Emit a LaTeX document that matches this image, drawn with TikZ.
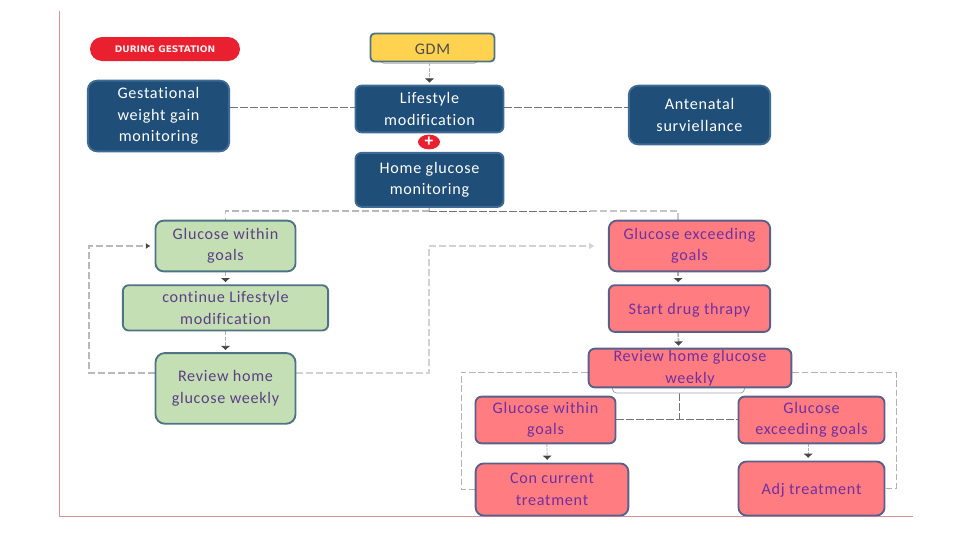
\documentclass[tikz,border=0pt]{standalone}
\usepackage{fontspec}
\setmainfont{Carlito}[LetterSpace=4.5,Ligatures=NoCommon]
\newfontfamily\bannerfont{DejaVu Sans}
\usetikzlibrary{arrows.meta,positioning,backgrounds,shapes.geometric}
\definecolor{navybox}{HTML}{1F4E79}
\definecolor{navyline}{HTML}{3F6A94}
\definecolor{greenbox}{HTML}{C5DFB4}
\definecolor{greenline}{HTML}{4E7385}
\definecolor{pinkbox}{HTML}{FF7C80}
\definecolor{pinkline}{HTML}{5A6088}
\definecolor{yellowbox}{HTML}{FFD24F}
\definecolor{redmark}{HTML}{E8202F}
\definecolor{axisline}{HTML}{DB8E9E}
\definecolor{purpletext}{HTML}{7030A0}
\definecolor{greentext}{HTML}{5B3F85}
\begin{document}
\begin{tikzpicture}[
            x=0.75pt, y=-0.75pt,
            font=\fontsize{12.1}{16.1}\selectfont,
            base/.style={draw, rounded corners=4.5pt, line width=1.4pt, align=center, inner sep=0pt, execute at begin node={\rule{0pt}{10.5pt}}},
            navy/.style={base, draw=navyline, fill=navybox, text=white},
            green/.style={base, draw=greenline, fill=greenbox, text=greentext},
            pink/.style={base, draw=pinkline, fill=pinkbox, text=purpletext},
            under/.style={draw=gray!70, rounded corners=3pt, fill=white, line width=0.6pt},
            arrow/.style={-{Latex[length=3.2pt,width=7.5pt,color=gray!55!black]}, draw=gray!60, line width=1.3pt, dash pattern=on 3pt off 1pt, shorten >=1.5pt},
            thinlink/.style={draw=black!55, line width=0.5pt, dash pattern=on 6pt off 1.5pt},
            greylink/.style={draw=gray!55, line width=1.1pt, dash pattern=on 5pt off 2.5pt},
            palelink/.style={draw=gray!35, line width=1.1pt, dash pattern=on 5pt off 2.5pt},
            framelink/.style={draw=gray!60, line width=0.7pt, dash pattern=on 5pt off 2pt}
        ]
            \useasboundingbox (0,0) rectangle (960,540);
            \draw[axisline, line width=0.6pt] (59,11) -- (59,516) -- (913,516);

            \node[rounded corners=9pt, fill=redmark, text=white!92!redmark, minimum width=112.5pt, minimum height=18pt, inner sep=0pt, font=\bannerfont\fontsize{6.8}{9}\selectfont\bfseries] (during) at (165,49) {DURING GESTATION};

            % top row
            \node[under, minimum width=73pt, minimum height=14pt] (gdmback) at (429,54) {};
            \node[base, draw=greenline, fill=yellowbox, text=black!70, rounded corners=3pt, minimum width=93pt, minimum height=21pt] (gdm) at (432.5,47.5) {GDM};
            \node[navy, minimum width=111pt, minimum height=35pt] (life) at (429.5,109) {Lifestyle\\modification};
            \node[navy, rounded corners=7pt, minimum width=106pt, minimum height=53pt] (weight) at (158.5,116) {Gestational\\weight gain\\monitoring};
            \node[navy, rounded corners=7pt, minimum width=106pt, minimum height=44pt] (ante) at (699.5,115) {Antenatal\\surviellance};
            \node[navy, below=14pt of life, minimum width=111pt, minimum height=40.5pt] (home) {Home glucose\\monitoring};
            \node[ellipse, fill=redmark, text=white, minimum width=16.5pt, minimum height=11pt, inner sep=0pt, font=\fontsize{13}{13}\selectfont\bfseries] (plus) at (429,142) {+};

            % left branch
            \node[green, rounded corners=6pt, minimum width=105pt, minimum height=38pt] (withinl) at (225.5,246) {Glucose within\\goals};
            \node[green, below=9pt of withinl, minimum width=154pt, minimum height=34pt] (contin) {continue Lifestyle\\modification};
            \node[green, rounded corners=7pt, below=15.5pt of contin, minimum width=105pt, minimum height=53pt] (reviewl) {Review home\\glucose weekly};

            % right branch
            \node[pink, rounded corners=6pt, minimum width=121pt, minimum height=38pt] (exceedr) at (689.5,246) {Glucose exceeding\\goals};
            \node[pink, below=9pt of exceedr, minimum width=121pt, minimum height=35pt] (drug) {Start drug thrapy};
            \node[under, minimum width=99pt, minimum height=18pt] (reviewback) at (678.5,381) {};
            \node[pink, minimum width=152pt, minimum height=29pt] (reviewr) at (690,368) {Review home glucose\\weekly};
            \node[pink, minimum width=105pt, minimum height=35pt] (withinb) at (545.5,420) {Glucose within\\goals};
            \node[pink, minimum width=109.5pt, minimum height=35pt] (exceedb) at (811.5,420) {Glucose\\exceeding goals};
            \node[pink, rounded corners=6pt, minimum width=114.5pt, minimum height=39pt] (concur) at (552,489.5) {Con current\\treatment};
            \node[pink, rounded corners=6pt, minimum width=109.5pt, minimum height=40.5pt] (adj) at (811.5,488.5) {Adj treatment};

            \begin{scope}[on background layer]
            \coordinate (splitup) at (429,211);
            \coordinate (splitfade) at (590,211);
            \coordinate (loopl) at (89,373);
            \coordinate (loopr) at (429,373);
            \coordinate (framel) at (461,372);
            \coordinate (framer) at (896,372);
            \coordinate (splitdown) at (679,419);
            \draw[arrow] (gdm.south -| life.north) -- (life.north);
            \draw[thinlink] (weight.east |- 0,107) -- (life.west |- 0,107);
            \draw[thinlink] (life.east |- 0,107) -- (ante.west |- 0,107);
            \draw[greylink] (home.south) -- (splitup);
            \draw[greylink] (splitup) -| (withinl.north);
            \draw[thinlink] (splitup) -- (splitfade);
            \draw[greylink, draw=gray!45] (splitfade) -| ([xshift=-8.5pt]exceedr.north);
            \draw[arrow] (withinl.south) -- (contin.north);
            \draw[arrow] (contin.south) -- (reviewl.north);
            \draw[greylink, -{Latex[length=3.5pt,width=4.5pt,color=gray!55!black]}, shorten >=3pt] (reviewl.west |- loopl) -- (loopl) |- (withinl.west);
            \draw[palelink, -{Latex[length=4pt,width=5pt,color=gray!35]}, shorten >=10pt] (reviewl.east |- loopr) -- (loopr) |- (exceedr.west);
            \draw[arrow] ([xshift=-8.5pt]exceedr.south) -- ([xshift=-8.5pt]drug.north);
            \draw[arrow] ([xshift=-8.5pt]drug.south) -- ([xshift=-8.5pt]reviewr.north);
            \draw[framelink] (reviewr.west |- framel) -- (framel) |- (concur.west);
            \draw[framelink] (reviewr.east |- framer) -- (framer) |- (adj.east);
            \draw[thinlink] (reviewback.south -| splitdown) -- (splitdown);
            \draw[thinlink] (withinb.east |- splitdown) -- (exceedb.west |- splitdown);
            \draw[arrow, line width=0.7pt, dash pattern=on 2pt off 1pt, shorten >=2pt] ([xshift=1pt]withinb.south) -- ([xshift=-3.5pt]concur.north);
            \draw[arrow, line width=0.7pt, dash pattern=on 2pt off 1pt, shorten >=2pt] ([xshift=-2.5pt]exceedb.south) -- ([xshift=-2.5pt]adj.north);
            \end{scope}
        \end{tikzpicture}
\end{document}
